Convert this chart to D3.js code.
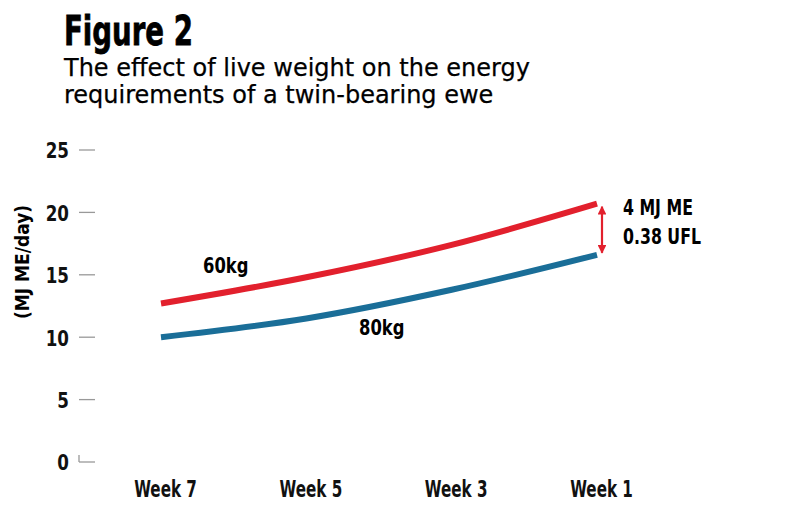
<!DOCTYPE html>
<html><head><meta charset="utf-8">
<script src="https://cdn.jsdelivr.net/npm/d3@7"></script>
<style>
body{margin:0;background:#fff;}
text{font-family:"DejaVu Sans Condensed","DejaVu Sans",sans-serif;}
</style></head>
<body>
<svg id="c" width="790" height="515"></svg>
<script>
const weeks = ["Week 7","Week 5","Week 3","Week 1"];
const ewe60 = [12.7, 14.8, 17.4, 20.7];
const ewe80 = [10.0, 11.5, 13.8, 16.6];
const yTicks = [0,5,10,15,20,25];
const seriesLabels = ["60kg","80kg"];
const diffLabels = ["4 MJ ME","0.38 UFL"];

const svg = d3.select("#c");
const x = d3.scalePoint().domain(weeks).range([161,597]);
const y = d3.scaleLinear().domain([0,25]).range([462,150]);

// squeeze text horizontally to mimic a condensed face
function squeeze(sel, f){
  sel.each(function(){
    const w = this.getComputedTextLength();
    d3.select(this).attr("textLength", w*f).attr("lengthAdjust","spacingAndGlyphs");
  });
}

// title
svg.append("text").attr("x",64).attr("y",45).attr("font-size",40).attr("font-weight","bold")
  .style("font-family","'DejaVu Sans',sans-serif").attr("stroke","#000").attr("stroke-width",0.8)
  .text("Figure 2").call(squeeze,0.69);
svg.append("text").attr("x",64).attr("y",76).attr("font-size",24).style("font-family","'DejaVu Sans',sans-serif")
  .attr("stroke","#000").attr("stroke-width",0.25)
  .text("The effect of live weight on the energy");
svg.append("text").attr("x",64).attr("y",103).attr("font-size",24).style("font-family","'DejaVu Sans',sans-serif")
  .attr("stroke","#000").attr("stroke-width",0.25)
  .text("requirements of a twin-bearing ewe");

// y axis
const yAxis = d3.axisLeft(y).tickValues(yTicks).tickSize(0).tickPadding(0);
const ga = svg.append("g").attr("transform","translate(69,0)").call(yAxis);
ga.select(".domain").remove();
ga.selectAll("text").attr("font-size",22).attr("font-weight","bold").attr("fill","#111")
  .style("font-family","'DejaVu Sans',sans-serif").attr("dy","0.36em").call(squeeze,0.76);
svg.append("g").selectAll("line").data(yTicks).join("line")
  .attr("x1",79).attr("x2",95).attr("y1",d=>y(d)).attr("y2",d=>y(d))
  .attr("stroke","#999").attr("stroke-width",1.3);
svg.append("line").attr("x1",79).attr("x2",79).attr("y1",y(0)-7).attr("y2",y(0))
  .attr("stroke","#999").attr("stroke-width",1.3);

svg.append("text").attr("transform","translate(29,262) rotate(-90)").attr("text-anchor","middle")
  .attr("font-size",19).attr("font-weight","bold").text("(MJ ME/day)");

// x axis labels
const xAxis = d3.axisBottom(x).tickSize(0).tickPadding(0);
const gx = svg.append("g").attr("transform","translate(4,481)").call(xAxis);
gx.select(".domain").remove();
gx.selectAll("text").attr("font-size",23).attr("font-weight","bold").attr("fill","#111")
  .style("font-family","'DejaVu Sans',sans-serif").attr("dy","0.71em").call(squeeze,0.66);

// lines
const line = d3.line().x((d,i)=>x(weeks[i])).y(d=>y(d)).curve(d3.curveMonotoneX);
svg.append("path").datum(ewe80).attr("d",line).attr("fill","none").attr("stroke","#1a6e98").attr("stroke-width",6);
svg.append("path").datum(ewe60).attr("d",line).attr("fill","none").attr("stroke","#e2202d").attr("stroke-width",6);

// series labels
svg.append("text").attr("x",203).attr("y",273).attr("font-size",21).attr("font-weight","bold")
  .style("font-family","'DejaVu Sans',sans-serif").text(seriesLabels[0]).call(squeeze,0.78);
svg.append("text").attr("x",359).attr("y",335).attr("font-size",21).attr("font-weight","bold")
  .style("font-family","'DejaVu Sans',sans-serif").text(seriesLabels[1]).call(squeeze,0.78);

// difference arrow
const ax = x(weeks[3]) + 5;
const defs = svg.append("defs");
defs.append("marker").attr("id","ah").attr("viewBox","0 0 10 10").attr("refX",9).attr("refY",5)
  .attr("markerWidth",4).attr("markerHeight",4).attr("orient","auto-start-reverse")
  .append("path").attr("d","M0,0 L10,5 L0,10 Z").attr("fill","#e2202d");
svg.append("line").attr("x1",ax).attr("x2",ax).attr("y1",y(ewe60[3])+3).attr("y2",y(ewe80[3])-2)
  .attr("stroke","#e2202d").attr("stroke-width",2.2)
  .attr("marker-start","url(#ah)").attr("marker-end","url(#ah)");
svg.append("text").attr("x",623).attr("y",215).attr("font-size",21).attr("font-weight","bold")
  .style("font-family","'DejaVu Sans',sans-serif").text(diffLabels[0]).call(squeeze,0.75);
svg.append("text").attr("x",623).attr("y",244).attr("font-size",21).attr("font-weight","bold")
  .style("font-family","'DejaVu Sans',sans-serif").text(diffLabels[1]).call(squeeze,0.75);
</script>
</body></html>
